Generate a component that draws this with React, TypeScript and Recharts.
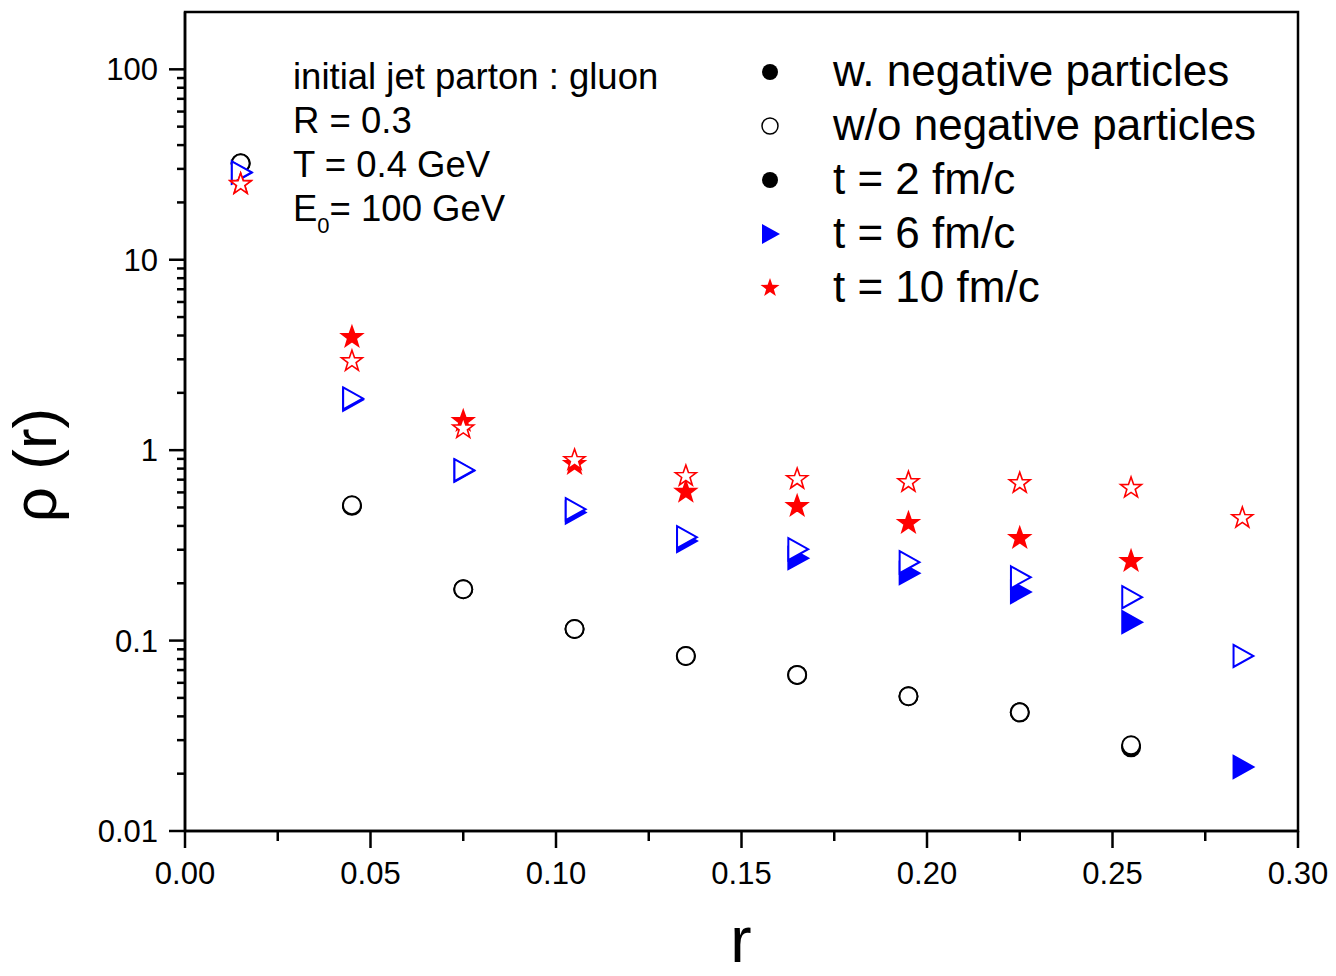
import React from "react";
import { ScatterChart, Scatter, XAxis, YAxis, ReferenceArea } from "recharts";

// radial bins (jet cone radius r)
const R_VALUES = [0.015, 0.045, 0.075, 0.105, 0.135, 0.165, 0.195, 0.225, 0.255, 0.285];

// rho(r); null = no point
const T2_WITH = [32.0, 0.51, 0.186, 0.115, 0.083, 0.066, 0.051, 0.042, 0.0275, null];
const T2_WITHOUT = [32.1, 0.514, 0.186, 0.115, 0.083, 0.066, 0.051, 0.042, 0.0282, null];
const T6_WITH = [28.6, 1.84, 0.78, 0.47, 0.333, 0.271, 0.226, 0.18, 0.125, 0.0217];
const T6_WITHOUT = [28.8, 1.87, 0.785, 0.49, 0.349, 0.302, 0.258, 0.215, 0.169, 0.083];
const T10_WITH = [25.0, 3.92, 1.42, 0.845, 0.603, 0.508, 0.414, 0.345, 0.261, null];
const T10_WITHOUT = [24.9, 2.93, 1.3, 0.887, 0.731, 0.705, 0.679, 0.671, 0.633, 0.44];

const X_TICKS = [0, 0.025, 0.05, 0.075, 0.1, 0.125, 0.15, 0.175, 0.2, 0.225, 0.25, 0.275, 0.3];
const Y_DECADES = [0.01, 0.1, 1, 10];
const Y_TICKS = [
  ...Y_DECADES.flatMap((d) => [1, 2, 3, 4, 5, 6, 7, 8, 9].map((k) => +(k * d).toPrecision(3))),
  100,
  200,
];

const LEGEND_ROWS = [
  { label: "w. negative particles", marker: "dot" },
  { label: "w/o negative particles", marker: "ring" },
  { label: "t = 2 fm/c", marker: "dot" },
  { label: "t = 6 fm/c", marker: "tri" },
  { label: "t = 10 fm/c", marker: "star" },
];

const FONT = "'Liberation Sans', Arial, sans-serif";
const BLUE = "#0000ff";
const RED = "#ff0000";

const toPoints = (vals: (number | null)[]) =>
  R_VALUES.map((r, i) => ({ r, v: vals[i] })).filter((p) => p.v !== null);

const starPath = (cx: number, cy: number, R: number) => {
  const inner = R * 0.4;
  let d = "";
  for (let i = 0; i < 10; i++) {
    const rad = i % 2 === 0 ? R : inner;
    const a = -Math.PI / 2 + (i * Math.PI) / 5;
    d += `${i === 0 ? "M" : "L"}${cx + rad * Math.cos(a)},${cy + rad * Math.sin(a)}`;
  }
  return d + "Z";
};

const triPath = (cx: number, cy: number, s: number) =>
  `M${cx - s * 0.8},${cy - s}L${cx + s},${cy}L${cx - s * 0.8},${cy + s}Z`;

const Dot = (filled: boolean) => (p: any) =>
  <circle cx={p.cx} cy={p.cy} r={9} fill={filled ? "#000" : "#fff"} stroke="#000" strokeWidth={2} />;
const Tri = (filled: boolean) => (p: any) =>
  <path d={triPath(p.cx, p.cy, 11)} fill={filled ? BLUE : "#fff"} stroke={BLUE} strokeWidth={2} />;
const Star = (filled: boolean) => (p: any) =>
  <path d={starPath(p.cx, p.cy, 11)} fill={filled ? RED : "#fff"} stroke={RED} strokeWidth={1.6} />;

const isMajorX = (v: number) => Math.round(v * 1000) % 50 === 0;
const isMajorY = (v: number) => Math.abs(Math.log10(v) - Math.round(Math.log10(v))) < 1e-6;

const XTick = ({ x, y, payload }: any) => {
  const major = isMajorX(payload.value);
  return (
    <g>
      <line x1={x} x2={x} y1={y} y2={y + (major ? 17 : 10)} stroke="#000" strokeWidth={2.5} />
      {major && (
        <text x={x} y={y + 53} textAnchor="middle" fontSize={31} fontFamily={FONT} fill="#000">
          {payload.value.toFixed(2)}
        </text>
      )}
    </g>
  );
};

const YTick = ({ x, y, payload }: any) => {
  const v = payload.value;
  if (v > 100) return null;
  const major = isMajorY(v);
  const e = Math.round(Math.log10(v));
  const label = e >= 0 ? String(10 ** e) : (10 ** e).toFixed(-e);
  return (
    <g>
      <line x1={x - (major ? 16 : 8)} x2={x} y1={y} y2={y} stroke="#000" strokeWidth={2.5} />
      {major && (
        <text x={x - 27} y={y + 11} textAnchor="end" fontSize={31} fontFamily={FONT} fill="#000">
          {label}
        </text>
      )}
    </g>
  );
};

const LegendMarker = ({ kind, cx, cy }: { kind: string; cx: number; cy: number }) => {
  if (kind === "dot") return <circle cx={cx} cy={cy} r={8} fill="#000" />;
  if (kind === "ring") return <circle cx={cx} cy={cy} r={8} fill="#fff" stroke="#000" strokeWidth={1.5} />;
  if (kind === "tri") return <path d={triPath(cx, cy, 10)} fill={BLUE} />;
  return <path d={starPath(cx, cy, 10)} fill={RED} />;
};

export default function App() {
  return (
    <div style={{ position: "absolute", left: 0, top: 0, width: 1336, height: 976, background: "#fff" }}>
      <ScatterChart width={1336} height={976} margin={{ top: 12, right: 38, bottom: 0, left: 0 }}>
        <XAxis
          type="number"
          dataKey="r"
          domain={[0, 0.3]}
          ticks={X_TICKS}
          interval={0}
          allowDataOverflow
          height={145}
          tickSize={0}
          tickMargin={0}
          tickLine={false}
          tick={<XTick />}
          axisLine={{ stroke: "#000", strokeWidth: 2.5 }}
        />
        <YAxis
          type="number"
          dataKey="v"
          scale="log"
          domain={[0.01, 200]}
          ticks={Y_TICKS}
          interval={0}
          allowDataOverflow
          width={185}
          tickSize={0}
          tickMargin={0}
          tickLine={false}
          tick={<YTick />}
          axisLine={{ stroke: "#000", strokeWidth: 2.5 }}
        />
        <ReferenceArea x1={0} x2={0.3} y1={0.01} y2={200} fill="none" stroke="#000" strokeWidth={2.5} />
        <Scatter data={toPoints(T2_WITH)} shape={Dot(true)} isAnimationActive={false} />
        <Scatter data={toPoints(T2_WITHOUT)} shape={Dot(false)} isAnimationActive={false} />
        <Scatter data={toPoints(T6_WITH)} shape={Tri(true)} isAnimationActive={false} />
        <Scatter data={toPoints(T6_WITHOUT)} shape={Tri(false)} isAnimationActive={false} />
        <Scatter data={toPoints(T10_WITH)} shape={Star(true)} isAnimationActive={false} />
        <Scatter data={toPoints(T10_WITHOUT)} shape={Star(false)} isAnimationActive={false} />
      </ScatterChart>

      <svg
        width={1336}
        height={976}
        style={{ position: "absolute", left: 0, top: 0, pointerEvents: "none" }}
        fontFamily={FONT}
      >
        {/* run parameters */}
        <g fontSize={36.5} fill="#000">
          <text x={293} y={89}>initial jet parton : gluon</text>
          <text x={293} y={133}>R = 0.3</text>
          <text x={293} y={177}>T = 0.4 GeV</text>
          <text x={293} y={221}>
            E<tspan dy={12} fontSize={22}>0</tspan>
            <tspan dy={-12}>= 100 GeV</tspan>
          </text>
        </g>

        {LEGEND_ROWS.map((row, i) => (
          <g key={row.label}>
            <LegendMarker kind={row.marker} cx={770} cy={72 + i * 54} />
            <text x={833} y={86 + i * 54} fontSize={44} fill="#000">
              {row.label}
            </text>
          </g>
        ))}

        <text x={741} y={962} textAnchor="middle" fontSize={64} fill="#000">
          r
        </text>
        <text transform="translate(56,465) rotate(-90)" textAnchor="middle" fontSize={62} fill="#000">
          ρ (r)
        </text>
      </svg>
    </div>
  );
}
